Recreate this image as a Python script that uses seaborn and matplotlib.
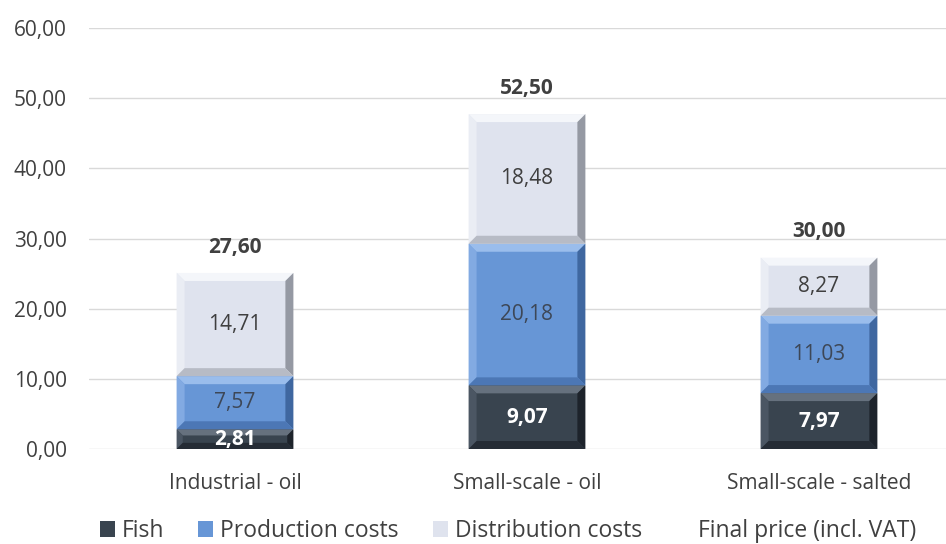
import numpy as np
import pandas as pd
import matplotlib
matplotlib.use("Agg")
import matplotlib.pyplot as plt
from matplotlib.patches import Polygon, Patch
import seaborn as sns

# Price build-up per product type (values per unit)
categories = ["Industrial - oil", "Small-scale - oil", "Small-scale - salted"]
fish = [2.81, 9.07, 7.97]
production_costs = [7.57, 20.18, 11.03]
distribution_costs = [14.71, 18.48, 8.27]
final_price = [27.60, 52.50, 30.00]
y_ticks = [0, 10, 20, 30, 40, 50, 60]
legend_labels = ["Fish", "Production costs", "Distribution costs", "Final price (incl. VAT)"]

sns.set_theme(style="white")
plt.rcParams["font.family"] = ["Open Sans", "DejaVu Sans"]

TEXT = "#404040"
# face, top bevel, left bevel, right bevel, bottom bevel
STYLES = {
    "Fish": ("#39444f", "#66717e", "#4b5663", "#1d232b", "#252c35"),
    "Production costs": ("#6796d6", "#9abdec", "#82aae2", "#3f67a0", "#4c77b5"),
    "Distribution costs": ("#dfe3ee", "#f4f6fa", "#eaedf4", "#9599a3", "#b7bbc5"),
}
LABEL_COLORS = {"Fish": "white", "Production costs": "#3d4757", "Distribution costs": "#3f3f3f"}

W, H, DPI = 946, 544, 100
fig = plt.figure(figsize=(W / DPI, H / DPI), dpi=DPI)
ax_left, ax_bottom, ax_right, ax_top = 89, 95, 946, 516
ax = fig.add_axes([ax_left / W, ax_bottom / H, (ax_right - ax_left) / W, (ax_top - ax_bottom) / H])

df = pd.DataFrame({
    "category": categories,
    "Fish": fish,
    "Production costs": production_costs,
    "Distribution costs": distribution_costs,
})

bar_width = 0.40
bottoms = np.zeros(len(categories))
segments = []
for name in ["Fish", "Production costs", "Distribution costs"]:
    n_before = len(ax.patches)
    sns.barplot(data=df, x="category", y=name, bottom=bottoms.copy(), color=STYLES[name][0],
                saturation=1, width=bar_width, errorbar=None, linewidth=0, ax=ax)
    new = ax.patches[n_before:]
    segments.append((name, new, bottoms.copy(), df[name].to_numpy()))
    bottoms = bottoms + df[name].to_numpy()

ax.set_xlim(-0.5, 2.435)
ax.set_ylim(0, 60)
ax.set_yticks(y_ticks)
ax.set_yticklabels([f"{v:.2f}".replace(".", ",") for v in y_ticks])
ax.set_xlabel("")
ax.set_ylabel("")
ax.yaxis.grid(True, color="#d9d9d9", linewidth=1)
ax.xaxis.grid(False)
ax.set_axisbelow(True)
sns.despine(ax=ax, left=True, bottom=True)
ax.tick_params(axis="both", length=0, colors=TEXT, labelsize=15)
ax.tick_params(axis="x", pad=17.5)
ax.tick_params(axis="y", pad=16)

# bevelled edges on each bar segment
ppx = (ax_right - ax_left) / (ax.get_xlim()[1] - ax.get_xlim()[0])
ppy = (ax_top - ax_bottom) / 60.0
for name, patches, bots, vals in segments:
    face, top_c, left_c, right_c, bot_c = STYLES[name]
    for p in patches:
        x0, y0 = p.get_x(), p.get_y()
        x1, y1 = x0 + p.get_width(), y0 + p.get_height()
        hpx = p.get_height() * ppy
        b = min(8.0, hpx / 3.2)
        bx, by = b / ppx, b / ppy
        polys = [
            ([(x0, y1), (x1, y1), (x1 - bx, y1 - by), (x0 + bx, y1 - by)], top_c),
            ([(x0, y0), (x0, y1), (x0 + bx, y1 - by), (x0 + bx, y0 + by)], left_c),
            ([(x1, y0), (x1, y1), (x1 - bx, y1 - by), (x1 - bx, y0 + by)], right_c),
            ([(x0, y0), (x1, y0), (x1 - bx, y0 + by), (x0 + bx, y0 + by)], bot_c),
        ]
        for pts, c in polys:
            ax.add_patch(Polygon(pts, closed=True, facecolor=c, edgecolor="none", zorder=p.get_zorder() + 0.1))

# segment values
for name, patches, bots, vals in segments:
    weight = "bold" if name == "Fish" else "normal"
    for i, (b0, v) in enumerate(zip(bots, vals)):
        ax.text(i, b0 + v / 2, f"{v:.2f}".replace(".", ","), ha="center", va="center",
                fontsize=15, color=LABEL_COLORS[name], fontweight=weight, zorder=5)

# final price above each stack
for i, (top, price) in enumerate(zip(bottoms, final_price)):
    ax.annotate(f"{price:.2f}".replace(".", ","), xy=(i, top), xytext=(0, 18.5),
                textcoords="offset points", ha="center", va="center",
                fontsize=15, fontweight="bold", color=TEXT)

handles = [Patch(facecolor=STYLES[n][0], edgecolor="none") for n in legend_labels[:3]]
handles.append(Patch(facecolor="none", edgecolor="none"))
fig.legend(handles, legend_labels, loc="center", bbox_to_anchor=(0.537, 1 - 531 / H), ncol=4,
           frameon=False, handlelength=0.65, handleheight=0.65, handletextpad=0.3,
           columnspacing=1.5, fontsize=16.5, labelcolor=TEXT)

fig.savefig("out.png", dpi=DPI)
